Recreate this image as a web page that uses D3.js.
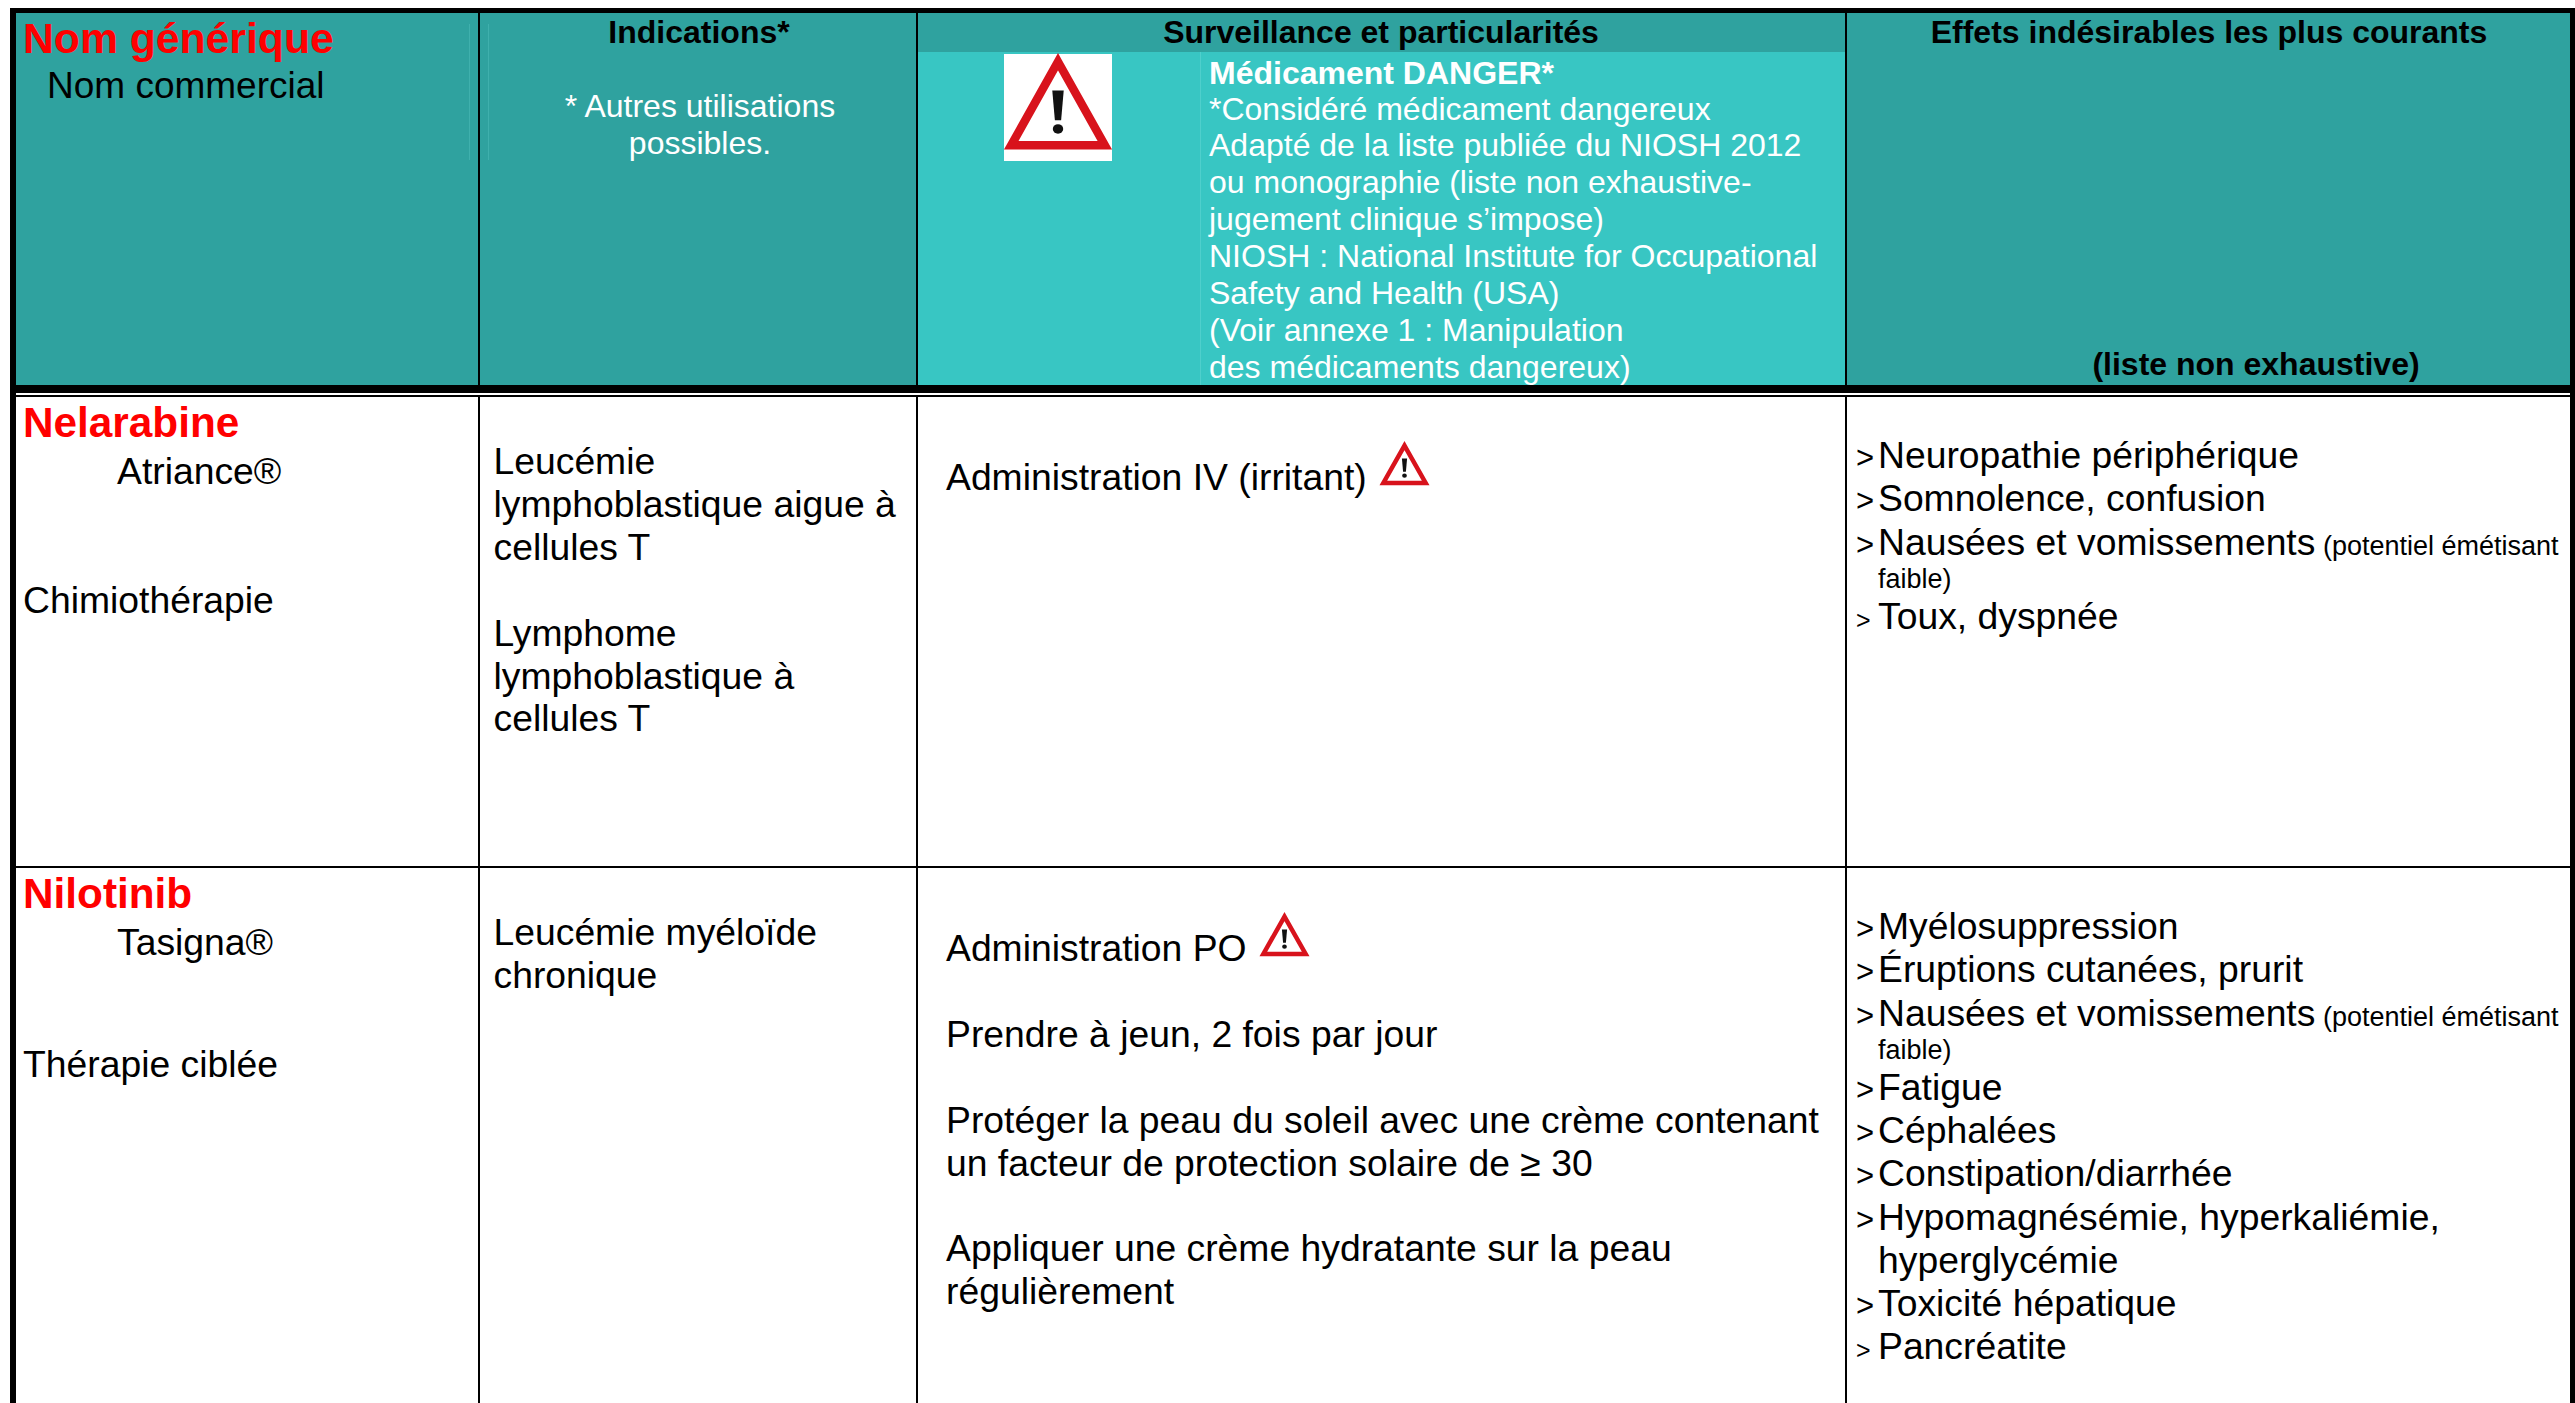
<!DOCTYPE html>
<html>
<head>
<meta charset="utf-8">
<script src="https://cdn.jsdelivr.net/npm/d3@7"></script>
<style>
  html, body { margin: 0; background: #fff; overflow: hidden; }
  svg { display: block; }
  text { font-family: "Liberation Sans", Arial, sans-serif; white-space: pre; }
</style>
</head>
<body>
<script>
const columns = ["nom", "indications", "surveillance", "effets"];
const rows = ["nelarabine", "nilotinib"];

const headerDanger = [
  "*Considéré médicament dangereux",
  "Adapté de la liste publiée du NIOSH 2012",
  "ou monographie (liste non exhaustive-",
  "jugement clinique s’impose)",
  "NIOSH : National Institute for Occupational",
  "Safety and Health (USA)",
  "(Voir annexe 1 : Manipulation",
  "des médicaments dangereux)"
];
const headerIndications = ["* Autres utilisations", "possibles."];

const genericNames = ["Nelarabine", "Nilotinib"];
const brandNames = ["Atriance®", "Tasigna®"];
const drugTypes = ["Chimiothérapie", "Thérapie ciblée"];

// empty strings are blank lines
const indications = [
  ["Leucémie", "lymphoblastique aigue à", "cellules T", "", "Lymphome", "lymphoblastique à", "cellules T"],
  ["Leucémie myéloïde", "chronique"]
];
const surveillance = [
  ["Administration IV (irritant)"],
  ["Administration PO", "", "Prendre à jeun, 2 fois par jour", "",
   "Protéger la peau du soleil avec une crème contenant", "un facteur de protection solaire de ≥ 30", "",
   "Appliquer une crème hydratante sur la peau", "régulièrement"]
];
// b = bullet, c = continuation of the line before, n = small note continuation, s = small bullet
const effects = [
  [["b", "Neuropathie périphérique"], ["b", "Somnolence, confusion"],
   ["b", "Nausées et vomissements", " (potentiel émétisant"], ["n", "faible)"], ["s", "Toux, dyspnée"]],
  [["b", "Myélosuppression"], ["b", "Éruptions cutanées, prurit"],
   ["b", "Nausées et vomissements", " (potentiel émétisant"], ["n", "faible)"], ["b", "Fatigue"],
   ["b", "Céphalées"], ["b", "Constipation/diarrhée"], ["b", "Hypomagnésémie, hyperkaliémie,"],
   ["c", "hyperglycémie"], ["b", "Toxicité hépatique"], ["s", "Pancréatite"]]
];

const width = 2575, height = 1403;
const teal = "#2fa29f", tealLight = "#38c6c3", red = "#ff0000";
const bodySize = 37.3;

const colLeft = d3.scaleOrdinal(columns, [16, 480, 918, 1847]);
const colRight = d3.scaleOrdinal(columns, [478, 916, 1845, 2570]);
const rowTop = d3.scaleOrdinal(rows, [397, 868]);
const lineY = d3.scaleLinear().domain([0, 1]).range([0, 42.9]);
const headLineY = d3.scaleLinear().domain([0, 1]).range([0, 36.9]);

const svg = d3.select("body").append("svg").attr("width", width).attr("height", height);

function addText(g, str, x, y, size, opts = {}) {
  return g.append("text")
    .attr("x", x).attr("y", y)
    .attr("font-size", size)
    .attr("font-weight", opts.bold ? "bold" : "normal")
    .attr("fill", opts.fill || "#000")
    .attr("text-anchor", opts.anchor || "start")
    .text(str);
}

function drawDanger(g, x, y, w, h, stroke) {
  const sx = d3.scaleLinear([0, 100], [x, x + w]);
  const sy = d3.scaleLinear([0, 100], [y, y + h]);
  const line = d3.line().x(d => sx(d[0])).y(d => sy(d[1])).curve(d3.curveLinearClosed);
  g.append("path").attr("d", line([[50, 6], [95, 93], [5, 93]]))
    .attr("fill", "#fff").attr("stroke", "#d8131c")
    .attr("stroke-width", stroke).attr("stroke-linejoin", "miter");
  g.append("path")
    .attr("d", line([[44.5, 36], [55.5, 36], [53, 67], [47, 67]]))
    .attr("fill", "#111");
  g.append("ellipse")
    .attr("cx", sx(50)).attr("cy", sy(76))
    .attr("rx", w * 0.05).attr("ry", h * 0.05)
    .attr("fill", "#111");
}

// page and header fills
const bg = svg.append("g");
bg.append("rect").attr("x", 16).attr("y", 13).attr("width", 2554).attr("height", 372).attr("fill", teal);
bg.append("rect").attr("x", colLeft("surveillance")).attr("y", 52)
  .attr("width", colRight("surveillance") - colLeft("surveillance")).attr("height", 333).attr("fill", tealLight);
bg.append("rect").attr("x", 1200).attr("y", 52).attr("width", 1).attr("height", 333).attr("fill", "#4fcfcc");
bg.append("rect").attr("x", 469).attr("y", 24).attr("width", 1).attr("height", 136).attr("fill", "#3fb0ad");
bg.append("rect").attr("x", 488).attr("y", 24).attr("width", 1).attr("height", 136).attr("fill", "#3fb0ad");

// rules
const rules = svg.append("g").attr("fill", "#000");
rules.append("rect").attr("x", 10).attr("y", 8).attr("width", 2565).attr("height", 5);
rules.append("rect").attr("x", 10).attr("y", 8).attr("width", 6).attr("height", height - 8);
rules.append("rect").attr("x", 2570).attr("y", 8).attr("width", 5).attr("height", height - 8);
rules.append("rect").attr("x", 10).attr("y", 385).attr("width", 2565).attr("height", 8);
rules.append("rect").attr("x", 10).attr("y", 395).attr("width", 2565).attr("height", 2);
rules.append("rect").attr("x", 10).attr("y", rowTop("nilotinib") - 2).attr("width", 2565).attr("height", 2);
columns.slice(1).forEach(c => {
  rules.append("rect").attr("x", colRight(columns[columns.indexOf(c) - 1])).attr("y", 13)
    .attr("width", 2).attr("height", 372);
  rules.append("rect").attr("x", colRight(columns[columns.indexOf(c) - 1])).attr("y", 397)
    .attr("width", 2).attr("height", height - 397);
});

// header text
const head = svg.append("g");
addText(head, "Nom générique", 23, 53, 42.7, { bold: true, fill: red });
addText(head, "Nom commercial", 47, 98, 37);
addText(head, "Indications*", 699, 43, 32, { bold: true, anchor: "middle" });
headerIndications.forEach((d, i) => {
  addText(head, d, 700, 117 + headLineY(i), 32, { fill: "#fff", anchor: "middle" });
});
addText(head, "Surveillance et particularités", 1381, 43, 32, { bold: true, anchor: "middle" });
addText(head, "Effets indésirables les plus courants", 2209, 43, 32, { bold: true, anchor: "middle" });
addText(head, "(liste non exhaustive)", 2256, 375, 32, { bold: true, anchor: "middle" });
addText(head, "Médicament DANGER*", 1209, 84, 32, { bold: true, fill: "#fff" });
headerDanger.forEach((d, i) => {
  addText(head, d, 1209, 119.5 + headLineY(i), 32, { fill: "#fff" });
});
head.append("rect").attr("x", 1004).attr("y", 54).attr("width", 108).attr("height", 107).attr("fill", "#fff");
drawDanger(head, 1006, 56, 104, 96, 8.5);

// table rows
rows.forEach((r, i) => {
  const top = rowTop(r);
  const g = svg.append("g");

  addText(g, genericNames[i], 23, top + 40, 42.3, { bold: true, fill: red });
  addText(g, brandNames[i], 117, top + 87, bodySize);
  addText(g, drugTypes[i], 23, top + (i === 0 ? 216 : 209), bodySize);

  indications[i].forEach((d, k) => {
    addText(g, d, 493.5, top + 77 + lineY(k), bodySize);
  });
  surveillance[i].forEach((d, k) => {
    addText(g, d, 946, top + 93 + lineY(k), bodySize);
  });

  let y = top + 71;
  effects[i].forEach((e, k) => {
    if (k > 0) y += e[0] === "n" ? 33 : (effects[i][k - 1][0] === "n" ? 41 : 43.3);
    if (e[0] === "b") addText(g, ">", 1856, y, 31);
    if (e[0] === "s") addText(g, ">", 1856, y, 25);
    const t = addText(g, e[1], 1878, y, e[0] === "n" ? 27 : bodySize);
    if (e[2]) t.append("tspan").attr("font-size", 27).text(e[2]);
  });
});

// small warning triangles beside the administration lines
drawDanger(svg.append("g"), 1381, 443, 47, 43, 4.5);
drawDanger(svg.append("g"), 1261, 914, 47, 43, 4.5);
</script>
</body>
</html>
